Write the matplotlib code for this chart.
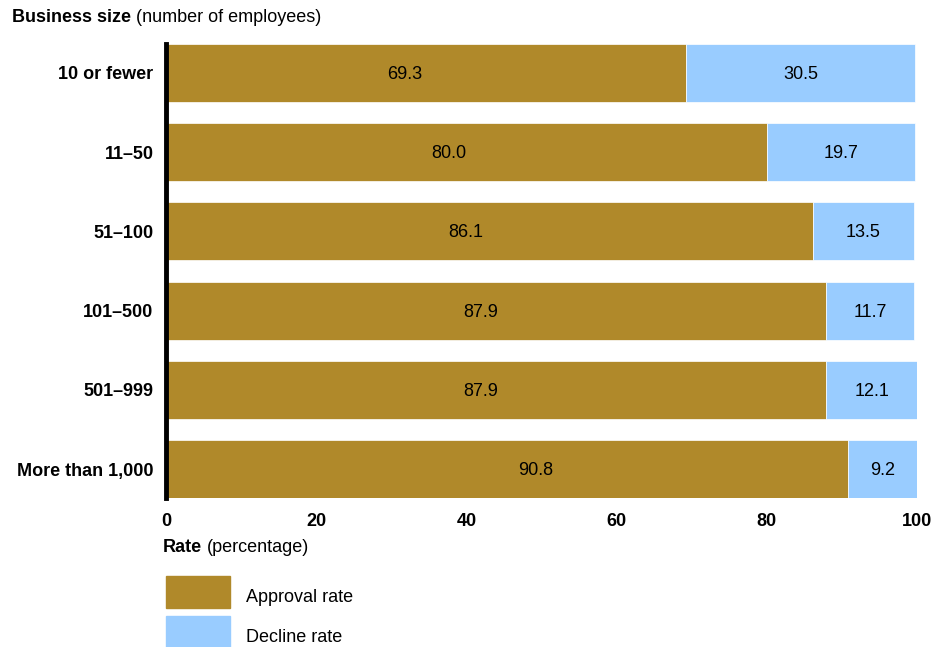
import matplotlib
matplotlib.use('Agg')
import matplotlib.pyplot as plt
from matplotlib.patches import Rectangle

categories = ['10 or fewer', '11\u201350', '51\u2013100', '101\u2013500', '501\u2013999', 'More than 1,000']
approval = [69.3, 80.0, 86.1, 87.9, 87.9, 90.8]
decline = [30.5, 19.7, 13.5, 11.7, 12.1, 9.2]
xticks = [0, 20, 40, 60, 80, 100]
# the source nudges the approval labels off centre a bit
approval_label_shift = [-2.9, -2.4, -3.1, -2.0, -2.0, 3.8]

gold = '#B0892A'
blue = '#99CCFF'

plt.rcParams['font.family'] = ['Liberation Sans', 'DejaVu Sans']
narrow = ['Liberation Sans Narrow', 'Liberation Sans']

fig = plt.figure(figsize=(9.51, 6.47), dpi=100)
ax = fig.add_axes([166 / 951, 1 - 498 / 647, 751 / 951, 454 / 647])

y = list(range(len(categories)))
ax.barh(y, approval, height=0.73, color=gold, edgecolor='white', linewidth=0.5)
ax.barh(y, decline, left=approval, height=0.73, color=blue, edgecolor='white', linewidth=0.5)

for i in y:
    ax.text(approval[i] / 2 + approval_label_shift[i], i + 0.02, f'{approval[i]:.1f}',
            ha='center', va='center', fontsize=13)
    ax.text(approval[i] + decline[i] / 2, i + 0.02, f'{decline[i]:.1f}',
            ha='center', va='center', fontsize=13)

ax.set_ylim(len(categories) - 0.5 - 0.135, -0.5 + 0.135)
ax.set_xlim(0, 100)
ax.set_yticks(y)
ax.set_yticklabels(categories, fontsize=13, fontweight='bold')
ax.set_xticks(xticks)
ax.set_xticklabels([str(t) for t in xticks], fontsize=13, fontweight='bold', family=narrow)
ax.tick_params(axis='both', length=0)
ax.tick_params(axis='y', pad=9)
ax.tick_params(axis='x', pad=11)
for s in ['top', 'right', 'bottom']:
    ax.spines[s].set_visible(False)
ax.spines['left'].set_linewidth(3.5)
ax.spines['left'].set_zorder(5)

renderer = fig.canvas.get_renderer()


def two_part(x, ypix, bold_txt, plain_txt, family=None):
    kw = {'fontsize': 13, 'va': 'center'}
    if family:
        kw['family'] = family
    t = fig.text(x / 951, 1 - ypix / 647, bold_txt, fontweight='bold', **kw)
    bb = t.get_window_extent(renderer)
    fig.text((bb.x1 + 5) / 951, 1 - ypix / 647, plain_txt, **kw)


two_part(12, 17, 'Business size', '(number of employees)')
two_part(163, 547, 'Rate', '(percentage)', narrow)

# legend
for label, color, top in [('Approval rate', gold, 576), ('Decline rate', blue, 616)]:
    fig.patches.append(Rectangle((166 / 951, 1 - (top + 32) / 647), 64 / 951, 32 / 647,
                                 transform=fig.transFigure, color=color))
    fig.text(246 / 951, 1 - (top + 22) / 647, label, fontsize=13, va='center')

fig.savefig('out.png', dpi=100)
